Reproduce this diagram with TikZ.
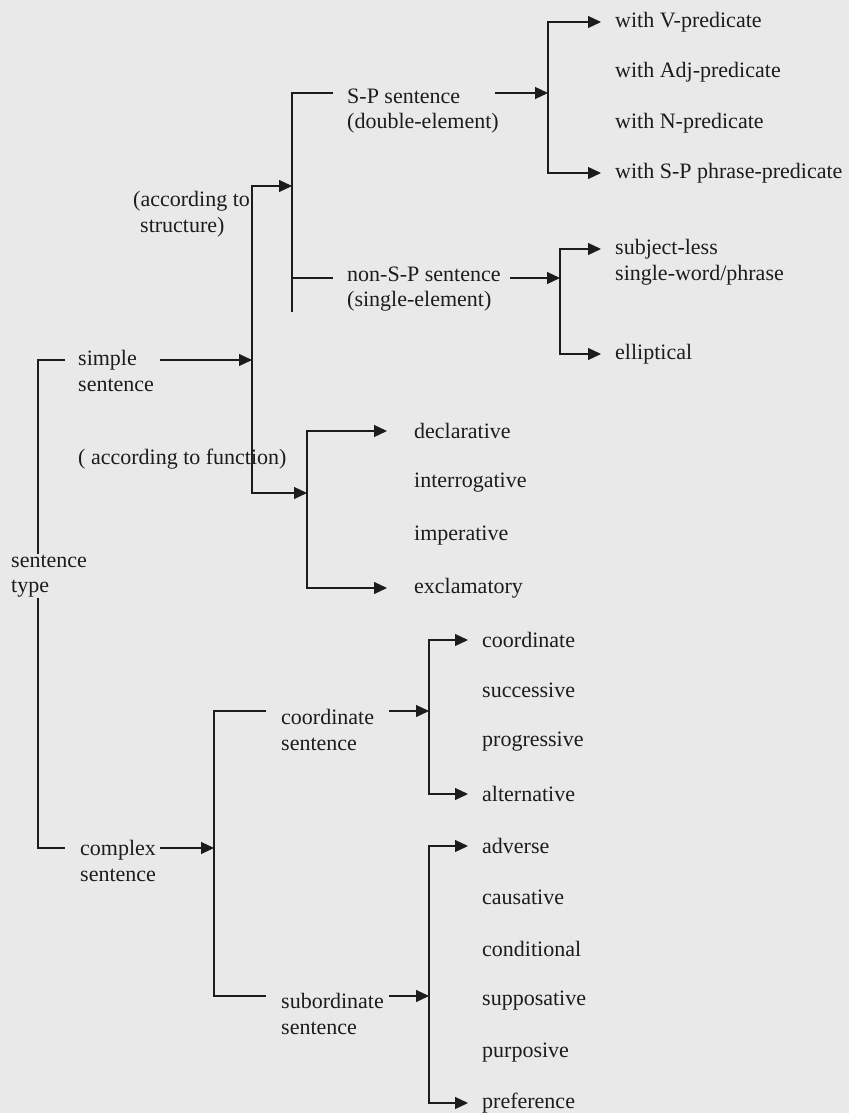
\documentclass[tikz,border=0pt]{standalone}
\usepackage{fontspec}
\setmainfont{Liberation Serif}
\usepackage{xcolor}
\usetikzlibrary{arrows.meta}
\definecolor{papercolor}{HTML}{E9E9E9}
\definecolor{inkcolor}{HTML}{1C1C1C}

\tikzset{
  lbl/.style = {inner sep = 0pt, anchor = west, align = left, text = inkcolor,
                font = \fontsize{22}{25.5}\selectfont},
  link/.style = {line width = 1.2pt, color = inkcolor},
  tip/.style = {link, -{Triangle[length = 13pt, width = 12pt]}},
  tips/.style = {link, {Triangle[length = 13pt, width = 12pt]}-{Triangle[length = 13pt, width = 12pt]}}
}

\begin{document}
\begin{tikzpicture}[x = 1pt, y = -1pt]
        % Paper
        \fill [papercolor] (0, 0) rectangle (849, 1113);
        \useasboundingbox (0, 0) rectangle (849, 1113);

        % Nodes
        \node [lbl] (type) at (11, 576) {sentence\\type};
        \node [lbl] (simple) at (78, 371) {simple\\sentence};
        \node [lbl] (complex) at (80, 861) {complex\\sentence};
        \node [lbl] (struct) at (133, 214) {(according to\\\hspace{7pt}structure)};
        \node [lbl] (func) at (78, 459) {( according to function)};
        \node [lbl] (sp) at (347, 111) {S-P sentence\\(double-element)};
        \node [lbl] (nonsp) at (347, 289) {non-S-P sentence\\(single-element)};
        \node [lbl] (coord) at (281, 730) {coordinate\\sentence};
        \node [lbl] (subord) at (281, 1014) {subordinate\\sentence};

        % Leaves
        \node [lbl] (vpred) at (615, 22) {with V-predicate};
        \node [lbl] (adjpred) at (615, 72) {with Adj-predicate};
        \node [lbl] (npred) at (615, 123) {with N-predicate};
        \node [lbl] (sppred) at (615, 173) {with S-P phrase-predicate};
        \node [lbl] (subjless) at (615, 249) {subject-less};
        \node [lbl] (singleword) at (615, 275) {single-word/phrase};
        \node [lbl] (elliptical) at (615, 354) {elliptical};
        \node [lbl] (declarative) at (414, 431) {declarative};
        \node [lbl] (interrogative) at (414, 483) {interrogative};
        \node [lbl] (imperative) at (414, 536) {imperative};
        \node [lbl] (exclamatory) at (414, 588) {exclamatory};
        \node [lbl] (coordinate) at (482, 640) {coordinate};
        \node [lbl] (successive) at (482, 690) {successive};
        \node [lbl] (progressive) at (482, 742) {progressive};
        \node [lbl] (alternative) at (482, 794) {alternative};
        \node [lbl] (adverse) at (482, 846) {adverse};
        \node [lbl] (causative) at (482, 897) {causative};
        \node [lbl] (conditional) at (482, 949) {conditional};
        \node [lbl] (supposative) at (482, 1001) {supposative};
        \node [lbl] (purposive) at (482, 1053) {purposive};
        \node [lbl] (preference) at (482, 1103) {preference};

        % Bars
        \coordinate (lbar) at (38, 576);
        \coordinate (abar) at (252, 360);
        \coordinate (bbar) at (292, 186);
        \coordinate (cbar) at (307, 493);
        \coordinate (dbar) at (548, 93);
        \coordinate (ebar) at (560, 278);
        \coordinate (fbar) at (214, 848);
        \coordinate (gbar) at (429, 711);
        \coordinate (hbar) at (429, 996);

        % Draw the links
        \draw [link] ([xshift = -13pt]simple.west |- abar) -| (lbar |- type.north);
        \draw [link] (lbar |- type.south) |- ([xshift = -15pt]complex.west |- fbar);

        \draw [tip] ([xshift = 6pt]simple.east |- abar) -- (abar);
        \draw [tips] (bbar) -| (abar) |- (cbar);

        \draw [link] ([xshift = -14pt]sp.west |- dbar) -| (bbar) -- (bbar |- nonsp.south);
        \draw [link] (bbar |- ebar) -- ([xshift = -14pt]nonsp.west |- ebar);

        \draw [tip] ([xshift = -4pt]sp.east |- dbar) -- (dbar);
        \draw [tips] ([xshift = -14pt]vpred.west) -| (dbar) |- ([xshift = -14pt]sppred.west);

        \draw [tip] ([xshift = 9pt]nonsp.east |- ebar) -- (ebar);
        \draw [tips] ([xshift = -14pt]subjless.west) -| (ebar) |- ([xshift = -14pt]elliptical.west);

        \draw [tips] ([xshift = -27pt]declarative.west) -| (cbar) |- ([xshift = -27pt]exclamatory.west);

        \draw [tip] ([xshift = 4pt]complex.east |- fbar) -- (fbar);
        \draw [link] ([xshift = -15pt]coord.west |- gbar) -| (fbar) |- ([xshift = -15pt]subord.west |- hbar);

        \draw [tip] ([xshift = 15pt]coord.east |- gbar) -- (gbar);
        \draw [tips] ([xshift = -14pt]coordinate.west) -| (gbar) |- ([xshift = -14pt]alternative.west);

        \draw [tip] ([xshift = 5pt]subord.east |- hbar) -- (hbar);
        \draw [tips] ([xshift = -14pt]adverse.west) -| (hbar) |- ([xshift = -14pt]preference.west);

    \end{tikzpicture}
\end{document}
